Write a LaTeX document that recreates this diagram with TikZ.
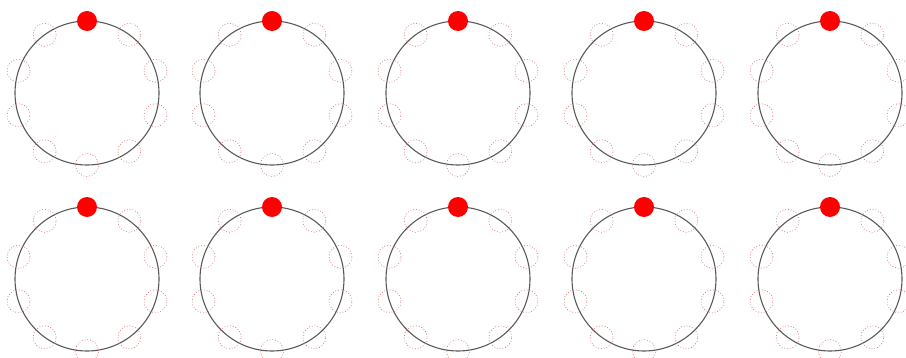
\documentclass[tikz,border=0pt]{standalone}
\usepackage{xcolor}
\usepackage{tikz}
\usetikzlibrary{positioning}

\begin{document}
\begin{tikzpicture}[
    x=1pt, y=-1pt,
    ring/.style={draw=black!65, circle, line width=1.1pt, minimum size=144pt,
                 inner sep=0pt, outer sep=0pt},
    bead/.style={circle, fill=red, minimum size=20pt, inner sep=0pt},
    ghost/.style={circle, draw=red!55!gray!70, line width=0.7pt, dash pattern=on 0.8pt off 2pt,
                  minimum size=23pt, inner sep=0pt}
  ]
    \useasboundingbox (0,0) rectangle (906,358);
    \foreach \r/\y in {1/93, 2/279} {
      \foreach \c/\x in {1/87, 2/272, 3/458, 4/644, 5/830} {
        \node[ring] (ring-\r-\c) at (\x,\y) {};
        % empty places round the ring
        \foreach \k/\a in {1/54, 2/18, 3/-18, 4/-54, 5/-90, 6/-126, 7/-162, 8/162, 9/126}
          \node[ghost] (ghost-\r-\c-\k) at (ring-\r-\c.\a) {};
        \node[bead] (bead-\r-\c) at (ring-\r-\c.north) {};
      }
    }
  \end{tikzpicture}
\end{document}
